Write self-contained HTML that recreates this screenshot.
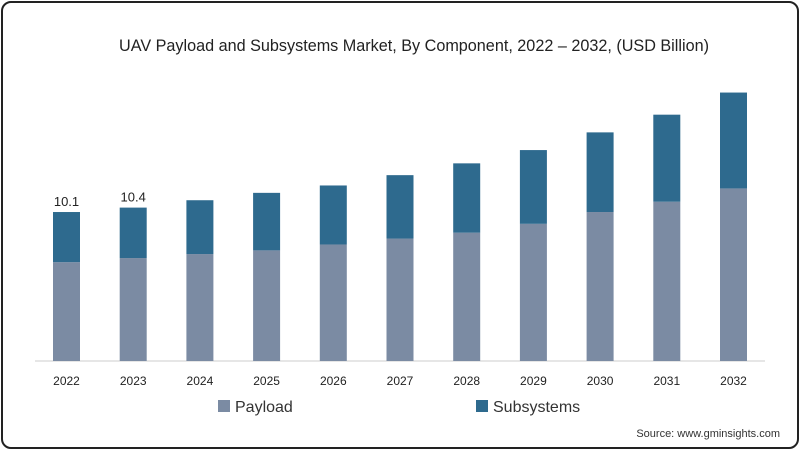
<!DOCTYPE html>
<html><head><meta charset="utf-8"><style>
body{margin:0;background:#fff;}
#wrap{position:relative;width:800px;height:450px;overflow:hidden;font-family:"Liberation Sans",sans-serif;}
#frame{position:absolute;left:1px;top:1px;width:794px;height:444px;border:2px solid #222;border-radius:10px;}
</style></head><body>
<div id="wrap">
<div id="frame"></div>
<svg id="chart" width="800" height="450" style="position:absolute;left:0;top:0">
<text x="414" y="51" text-anchor="middle" font-size="16.2" fill="#222">UAV Payload and Subsystems Market, By Component, 2022 – 2032, (USD Billion)</text>
<line x1="35" y1="361" x2="765" y2="361" stroke="#ccc" stroke-width="1"/>
<g id="bars"></g>
<rect x="218" y="400" width="12" height="12" fill="#7b8ba3"/>
<text x="235" y="412" font-size="16" fill="#333">Payload</text>
<rect x="476" y="400" width="12" height="12" fill="#2e6a8e"/>
<text x="493" y="412" font-size="16" fill="#333">Subsystems</text>
<text x="780" y="437" text-anchor="end" font-size="11" fill="#333">Source: www.gminsights.com</text>
</svg>
</div>
<script>
const categories=["2022","2023","2024","2025","2026","2027","2028","2029","2030","2031","2032"];
const payload=[6.7,6.98,7.25,7.5,7.9,8.3,8.7,9.3,10.1,10.8,11.7];
const subsystems=[3.4,3.42,3.65,3.9,4.0,4.3,4.7,5.0,5.4,5.9,6.5];
const totalLabels=["10.1","10.4","","","","","","","","",""];
const ns="http://www.w3.org/2000/svg";
const g=document.getElementById('bars');
const base=361, scale=14.75, x0=66.5, step=66.7, bw=27;
function xs(i){return x0+i*step;}
function ys(v){return base-v*scale;}
function mk(t,a){const e=document.createElementNS(ns,t);for(const k in a)e.setAttribute(k,a[k]);g.appendChild(e);return e;}
categories.forEach((c,i)=>{
  const x=xs(i)-bw/2;
  const p=mk('rect',{x:x,y:ys(payload[i]),width:bw,height:base-ys(payload[i]),fill:'#7b8ba3'});
  
  
  const tot=payload[i]+subsystems[i];
  const s=mk('rect',{x:x,y:ys(tot),width:bw,height:ys(payload[i])-ys(tot),fill:'#2e6a8e'});
  
  
  const t=mk('text',{x:xs(i),y:385,'text-anchor':'middle','font-size':12,fill:'#222'});
  t.textContent=c;
  
  
  if(totalLabels[i]){
    const l=mk('text',{x:xs(i),y:ys(tot)-6,'text-anchor':'middle','font-size':13,fill:'#222'});
    l.textContent=totalLabels[i];
    
    
  }
});
</script>
</body></html>
